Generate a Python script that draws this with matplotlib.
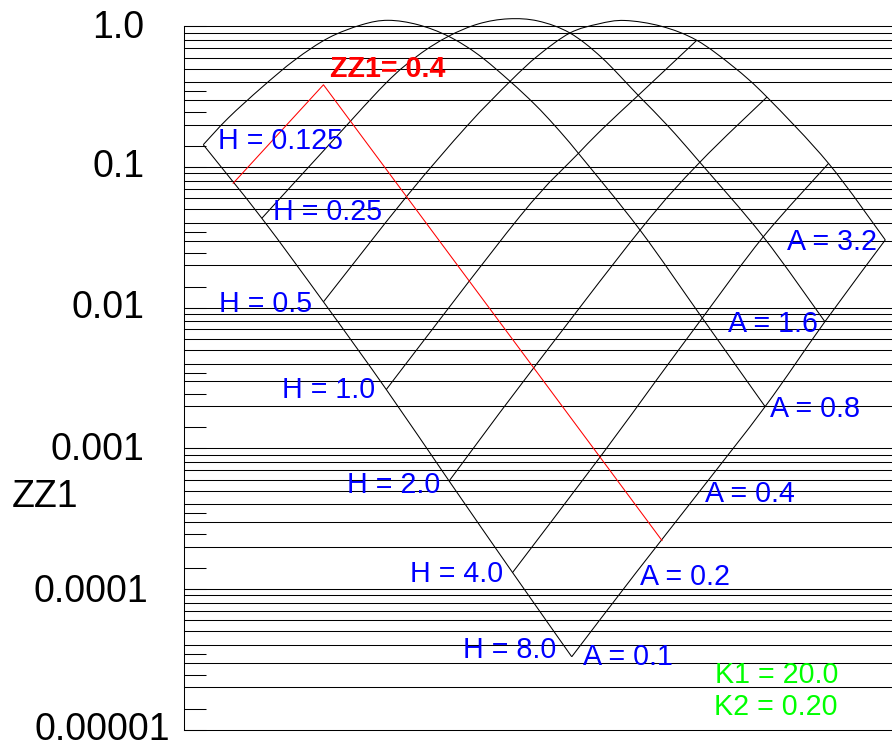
import numpy as np
import matplotlib
matplotlib.use('Agg')
import matplotlib.pyplot as plt
from matplotlib.path import Path
from matplotlib.patches import PathPatch
from matplotlib.ticker import FixedLocator

plt.rcParams['font.family'] = ['Liberation Sans', 'DejaVu Sans']

# ── data (x is the hidden horizontal coordinate, ZZ1 on a log scale) ─────────
H_VALUES = [0.125, 0.25, 0.5, 1.0, 2.0, 4.0, 8.0]
A_VALUES = [0.1, 0.2, 0.4, 0.8, 1.6, 3.2]
K1 = 20.0
K2 = 0.20
ZZ1_MARK = 0.4

# A = 0.1 edge, H from 0.125 to 8.0
A01_X = [0.0, 0.96, 1.97, 3.0, 4.03, 5.07, 6.04]
A01_ZZ1 = [0.144, 0.0432, 0.011, 0.00262, 0.000586, 0.000131, 3.3e-05]
# H = 8.0 edge, A from 0.1 to 3.2
H8_X = [6.04, 7.09, 8.14, 9.21, 10.19, 11.18]
H8_ZZ1 = [3.3e-05, 0.00013, 0.000497, 0.00198, 0.00795, 0.0303]

H0125_X = [0.0, 0.41, 0.96, 1.5, 2.05, 2.6, 3.03]
H0125_ZZ1 = [0.144, 0.223, 0.368, 0.576, 0.826, 1.026, 1.103]
A08_X = [3.03, 3.52, 4.02, 4.51, 5.03, 5.44, 5.77, 6.15, 7.16, 8.18, 9.21]
A08_ZZ1 = [1.103, 1.026, 0.849, 0.628, 0.406, 0.277, 0.195, 0.125, 0.0356, 0.00844, 0.00198]

H025_X = [0.96, 1.94, 2.98, 3.52, 4.02, 4.51, 5.0]
H025_ZZ1 = [0.0432, 0.126, 0.389, 0.620, 0.849, 1.04, 1.13]
A16_X = [5.0, 5.49, 6.01, 6.53, 7.13, 7.62, 8.14, 9.18, 10.19]
A16_ZZ1 = [1.13, 1.09, 0.896, 0.600, 0.323, 0.195, 0.108, 0.0319, 0.00795]

H05_X = [1.97, 3.33, 4.32, 5.03, 5.49, 6.01, 6.48, 6.91]
H05_ZZ1 = [0.011, 0.0615, 0.195, 0.406, 0.620, 0.896, 1.04, 1.1]
A32_X = [6.91, 7.51, 8.09, 8.69, 9.24, 10.25, 11.18]
A32_ZZ1 = [1.1, 1.0, 0.795, 0.516, 0.314, 0.106, 0.0303]

H1_X = [3.0, 5.19, 6.15, 6.59, 7.13, 8.09]
H1_ZZ1 = [0.00262, 0.0445, 0.125, 0.195, 0.323, 0.795]
H2_X = [4.03, 5.24, 7.16, 8.14, 9.24]
H2_ZZ1 = [0.000586, 0.00296, 0.0356, 0.108, 0.314]
H4_X = [5.07, 6.53, 7.43, 8.18, 9.18, 10.25]
H4_ZZ1 = [0.000131, 0.000897, 0.00306, 0.00844, 0.0319, 0.106]

# highlighted ZZ1 = 0.4 path
RED_X = [0.49, 1.97, 7.52]
RED_ZZ1 = [0.0766, 0.384, 0.000221]

DECADES = [1e-5, 1e-4, 1e-3, 1e-2, 1e-1]
GRID_MANTISSAS = [1, 2, 3, 4, 5, 6, 7, 8, 9]
SHORT_TICK_MANTISSAS = [1.41, 2.45, 3.46]
Y_TICK_VALUES = [1.0, 0.1, 0.01, 0.001, 0.0001, 0.00001]
Y_TICK_LABELS = ['1.0', '0.1', '0.01', '0.001', '0.0001', '0.00001']


def smooth_line(ax, xs, ys, **kw):
    """Catmull-Rom style bezier through the points, built in (x, log10 y)."""
    p = np.column_stack([xs, np.log10(ys)])
    ext = np.vstack([p[0], p, p[-1]])
    verts = [p[0]]
    codes = [Path.MOVETO]
    for i in range(len(p) - 1):
        c1 = ext[i + 1] + (ext[i + 2] - ext[i]) / 6
        c2 = ext[i + 2] - (ext[i + 3] - ext[i + 1]) / 6
        verts += [c1, c2, p[i + 1]]
        codes += [Path.CURVE4] * 3
    verts = np.array(verts)
    verts[:, 1] = 10 ** verts[:, 1]
    ax.add_patch(PathPatch(Path(verts, codes), fill=False, clip_on=False, **kw))


fig = plt.figure(figsize=(8.92, 7.47), dpi=100)
ax = fig.add_axes([184.3 / 892, 17.3 / 747, 1 - 184.3 / 892, 703.4 / 747])
ax.set_yscale('log')

# horizontal rules at every decade step
for d in DECADES:
    for m in GRID_MANTISSAS:
        ax.axhline(m * d, color='black', lw=0.75, clip_on=False, zorder=1)
ax.axhline(1.0, color='black', lw=0.75, clip_on=False, zorder=1)

line_kw = dict(edgecolor='black', lw=0.75, zorder=3)
smooth_line(ax, A01_X, A01_ZZ1, **line_kw)
smooth_line(ax, H8_X, H8_ZZ1, **line_kw)
smooth_line(ax, H0125_X + A08_X[1:], H0125_ZZ1 + A08_ZZ1[1:], **line_kw)
smooth_line(ax, H025_X + A16_X[1:], H025_ZZ1 + A16_ZZ1[1:], **line_kw)
smooth_line(ax, H05_X + A32_X[1:], H05_ZZ1 + A32_ZZ1[1:], **line_kw)
smooth_line(ax, H1_X, H1_ZZ1, **line_kw)
smooth_line(ax, H2_X, H2_ZZ1, **line_kw)
smooth_line(ax, H4_X, H4_ZZ1, **line_kw)
ax.plot(RED_X, RED_ZZ1, color='red', lw=0.75, zorder=4)

ax.set_xlim(-0.311, 11.29)
ax.set_ylim(1e-5, 1.0)

# axes: only the left spine, inward ticks
for side in ('top', 'right', 'bottom'):
    ax.spines[side].set_visible(False)
ax.spines['left'].set_linewidth(0.75)
ax.xaxis.set_visible(False)
ax.yaxis.set_major_locator(FixedLocator(DECADES + [1.0]))
ax.yaxis.set_minor_locator(FixedLocator([m * d for d in DECADES for m in SHORT_TICK_MANTISSAS]))
ax.tick_params(axis='y', which='both', direction='in', length=15.8, width=0.75,
               labelleft=False, right=False)

TICK_FS = 27
label_offsets = [(-28.8, -8.6), (-28.8, -7.0), (-28.8, -7.4), (-28.8, -8.4),
                 (-26.0, -9.6), (-10.3, -7.4)]
for v, lab, (dx, dy) in zip(Y_TICK_VALUES, Y_TICK_LABELS, label_offsets):
    ax.annotate(lab, xy=(0, v), xycoords=('axes fraction', 'data'),
                xytext=(dx, dy), textcoords='offset points',
                ha='right', va='baseline', fontsize=TICK_FS, annotation_clip=False)
fig.text(12 / 892, (747 - 497) / 747, 'ZZ1', fontsize=TICK_FS, ha='left', va='center')

# parameter labels
LAB_FS = 20.6
h_starts = [(H0125_X[0], H0125_ZZ1[0]), (H025_X[0], H025_ZZ1[0]), (H05_X[0], H05_ZZ1[0]),
            (H1_X[0], H1_ZZ1[0]), (H2_X[0], H2_ZZ1[0]), (H4_X[0], H4_ZZ1[0]),
            (H8_X[0], H8_ZZ1[0])]
h_place = [('left', 10.6, -3.1), ('left', 8.1, -1.2), ('right', -8.4, -7.2),
           ('right', -7.9, -6.3), ('right', -6.7, -8.9), ('right', -6.8, -6.8),
           ('right', -10.8, -1.2)]
for h, xy, (ha, dx, dy) in zip(H_VALUES, h_starts, h_place):
    ax.annotate(f'H = {h}', xy=xy, xytext=(dx, dy), textcoords='offset points',
                ha=ha, va='baseline', fontsize=LAB_FS, color='blue',
                annotation_clip=False, zorder=5)

a_place = [('left', 8.4, -6.0), ('left', 2.9, -8.6), ('left', 3.6, -7.7),
           ('left', 3.6, -7.2), ('right', -5.0, -7.2), ('right', -6.0, -7.2)]
for a, x, z, (ha, dx, dy) in zip(A_VALUES, H8_X, H8_ZZ1, a_place):
    ax.annotate(f'A = {a}', xy=(x, z), xytext=(dx, dy), textcoords='offset points',
                ha=ha, va='baseline', fontsize=LAB_FS, color='blue',
                annotation_clip=False, zorder=5)

ax.annotate(f'ZZ1= {ZZ1_MARK:.1f}', xy=(RED_X[1], RED_ZZ1[1]), xytext=(4.8, 5.3),
            textcoords='offset points', ha='left', va='baseline', fontsize=LAB_FS,
            fontweight='bold', color='red', annotation_clip=False, zorder=5)

fig.text(715 / 892, (747 - 683) / 747, f'K1 = {K1:.1f}', fontsize=LAB_FS,
         color='#00ff00', ha='left', va='baseline')
fig.text(714 / 892, (747 - 715) / 747, f'K2 = {K2:.2f}', fontsize=LAB_FS,
         color='#00ff00', ha='left', va='baseline')

fig.savefig('out.png', dpi=100, facecolor='white')
